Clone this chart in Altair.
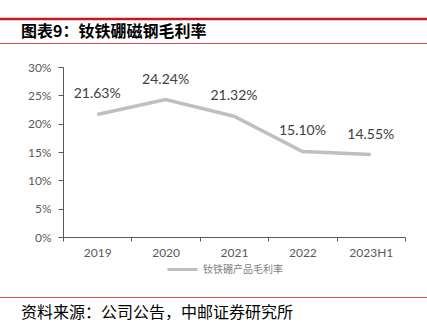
import altair as alt
import pandas as pd

years = ["2019", "2020", "2021", "2022", "2023H1"]
margins = [21.63, 24.24, 21.32, 15.10, 14.55]
series_name = "钕铁硼产品毛利率"
title_text = "图表9：钕铁硼磁钢毛利率"
source_text = "资料来源：公司公告，中邮证券研究所"
y_ticks = [0, 0.05, 0.10, 0.15, 0.20, 0.25, 0.30]

df = pd.DataFrame({
    "year": years,
    "value": [m / 100 for m in margins],
    "series": [series_name] * len(years),
})
one = pd.DataFrame({"t": [0]})

W, H = 342, 170
LEFT, TOP = 63, 67
LINE_GREY = "#BFBFBF"
RED = "#C8161D"

x_enc = alt.X(
    "year:N", sort=years, title=None,
    scale=alt.Scale(paddingInner=0, paddingOuter=0),
    axis=alt.Axis(labelAngle=0, labelFont="Lato", labelFontSize=12, labelColor="#595959",
                  domainColor="#595959", tickColor="#595959", tickSize=4, tickBand="extent",
                  labelPadding=6, grid=False),
)
y_enc = alt.Y(
    "value:Q", title=None,
    scale=alt.Scale(domain=[0, 0.3], nice=False),
    axis=alt.Axis(format=".0%", values=y_ticks, tickCount=7,
                  labelFont="Lato", labelFontSize=12, labelColor="#595959",
                  labelOverlap=False, labelBound=False, labelFlush=False,
                  domainColor="#595959", tickColor="#595959", tickSize=5,
                  labelPadding=7, grid=False),
)

base = alt.Chart(df).encode(x=x_enc, y=y_enc)

line = base.mark_line(strokeWidth=3.5).encode(
    color=alt.Color("series:N", scale=alt.Scale(range=[LINE_GREY]),
                    legend=alt.Legend(title=None, orient="none", legendX=103, legendY=186,
                                      symbolType="stroke", symbolSize=900, symbolStrokeWidth=3,
                                      labelFont="Noto Sans CJK SC", labelFontSize=10,
                                      labelColor="#7F7F7F", labelOffset=4)),
)

labels = base.mark_text(font="Lato", fontSize=14, color="#404040", dy=-20,
                        baseline="middle").encode(
    text=alt.Text("value:Q", format=".2%"),
)

title = alt.Chart(one).mark_text(font="Noto Sans CJK SC", fontSize=16, fontWeight="bold",
                                 align="left", baseline="middle", color="#000000").encode(
    x=alt.value(21 - LEFT), y=alt.value(32 - TOP), text=alt.value(title_text))

source = alt.Chart(one).mark_text(font="Noto Sans CJK SC", fontSize=16,
                                  align="left", baseline="middle", color="#000000").encode(
    x=alt.value(21 - LEFT), y=alt.value(313 - TOP), text=alt.value(source_text))

top_rule = alt.Chart(one).mark_rule(color=RED, strokeWidth=2.5).encode(
    x=alt.value(-LEFT), x2=alt.value(427 - LEFT), y=alt.value(19 - TOP))
mid_rule = alt.Chart(one).mark_rule(color=RED, strokeWidth=1, opacity=0.75).encode(
    x=alt.value(-LEFT), x2=alt.value(427 - LEFT), y=alt.value(43.5 - TOP))
bot_rule = alt.Chart(one).mark_rule(color=RED, strokeWidth=1, opacity=0.75).encode(
    x=alt.value(-LEFT), x2=alt.value(427 - LEFT), y=alt.value(297.5 - TOP))

chart = alt.layer(line, labels, top_rule, mid_rule, bot_rule, title, source).properties(
    width=W, height=H,
    autosize=alt.AutoSizeParams(type="none"),
    padding={"left": LEFT, "top": TOP, "right": 427 - LEFT - W, "bottom": 328 - TOP - H},
    background="white",
).configure_view(stroke=None)

chart.save("out.html", embed_options={"renderer": "svg", "actions": False})
